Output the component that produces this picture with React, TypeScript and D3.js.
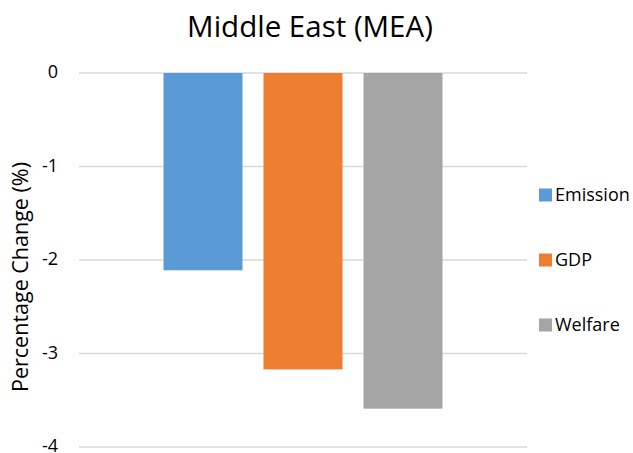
import React from "react";
import * as d3 from "d3";

const series = ["Emission", "GDP", "Welfare"];
const values = [-2.11, -3.17, -3.59];
const colors = ["#5B9BD5", "#ED7D31", "#A5A5A5"];
const yTicks = [0, -1, -2, -3, -4];
const title = "Middle East (MEA)";
const yLabel = "Percentage Change (%)";

export default function App() {
  const W = 633, H = 453;
  const left = 79, right = 527, top = 73, bottom = 447;
  const y = d3.scaleLinear().domain([0, -4]).range([top, bottom]);
  const x = d3.scaleBand<string>().domain(series).range([left, right]).paddingInner(0.21).paddingOuter(0.845);
  const font = "'Open Sans', 'Liberation Sans', sans-serif";
  return (
    <svg width={W} height={H} style={{ position: "absolute", left: 0, top: 0, background: "#fff" }} fontFamily={font}>
      <rect width={W} height={H} fill="#fff" />
      <text x={310} y={37} textAnchor="middle" fontSize={29.5} fill="#000">{title}</text>
      {yTicks.map((t) => (
        <g key={t}>
          <line x1={left} x2={right} y1={y(t)} y2={y(t)} stroke="#d9d9d9" strokeWidth={1.3} />
          <text x={58} y={y(t)} dy="0.3em" textAnchor="end" fontSize={18} fill="#000">{t}</text>
        </g>
      ))}
      {series.map((s, i) => (
        <rect key={s} x={x(s)} y={y(0)} width={x.bandwidth()} height={y(values[i]) - y(0)} fill={colors[i]} />
      ))}
      <text transform={`translate(28,277) rotate(-90)`} textAnchor="middle" fontSize={21.5} fill="#000">{yLabel}</text>
      {series.map((s, i) => {
        const cy = [195, 260, 325][i];
        return (
          <g key={s}>
            <rect x={539} y={cy - 6.5} width={13} height={13} fill={colors[i]} />
            <text x={555} y={cy} dy="0.36em" fontSize={18} fill="#000">{s}</text>
          </g>
        );
      })}
    </svg>
  );
}
